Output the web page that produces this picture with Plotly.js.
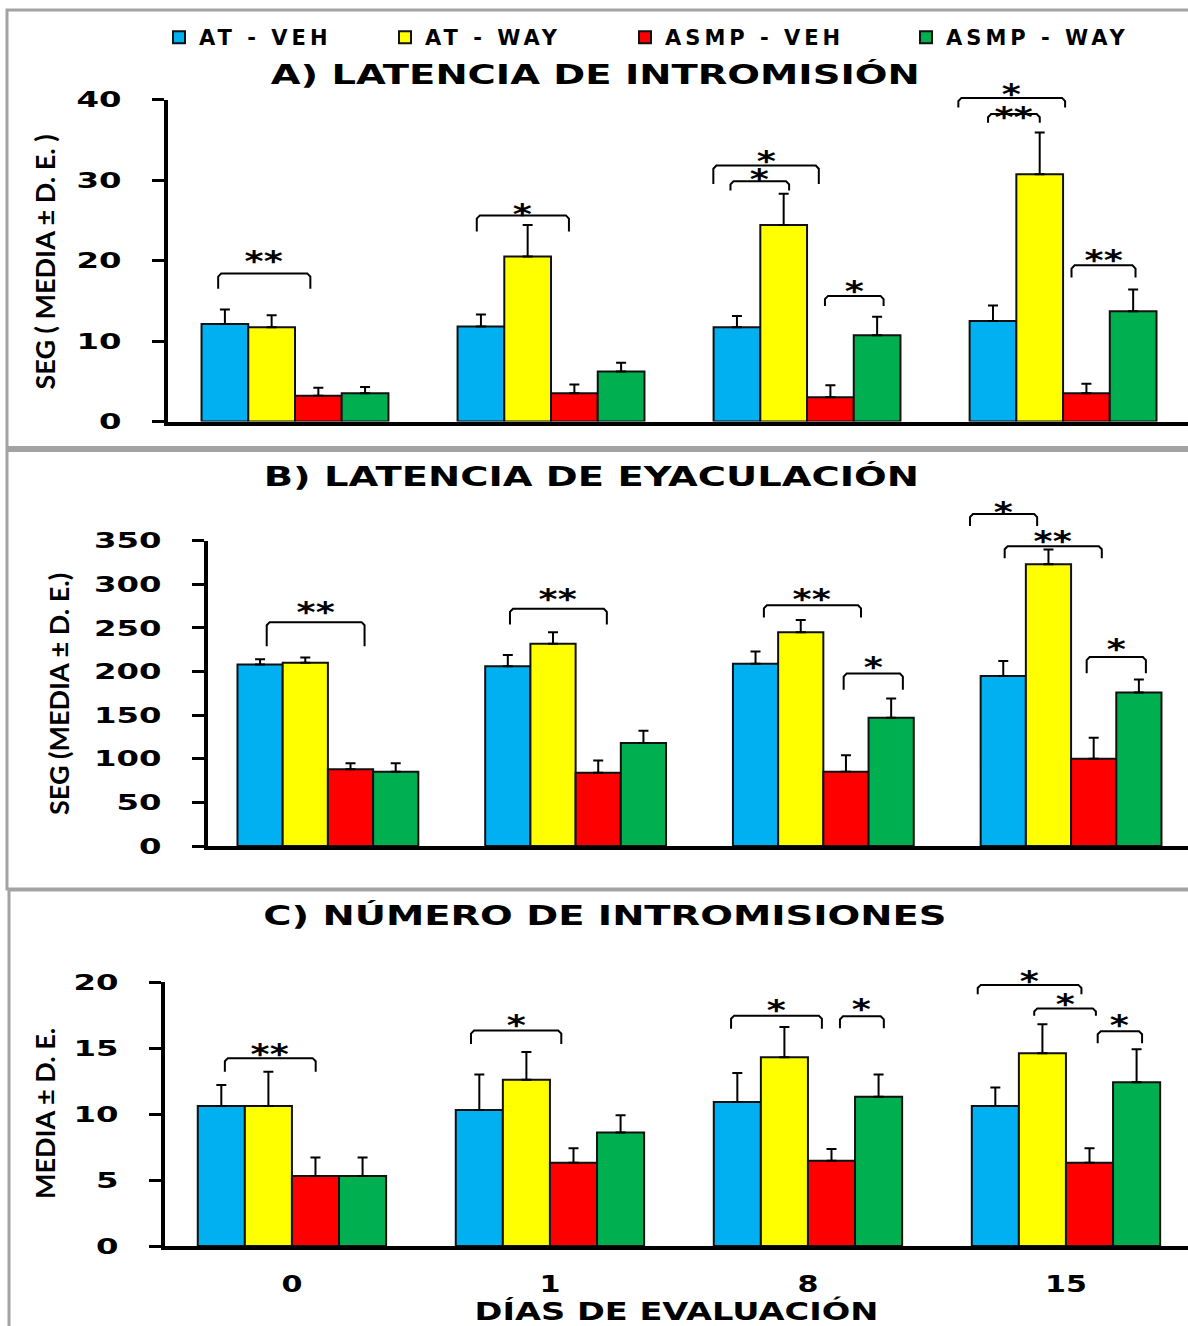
<!DOCTYPE html>
<html><head><meta charset="utf-8">
<script src="https://cdn.plot.ly/plotly-3.0.1.min.js"></script>
<style>
html,body{margin:0;padding:0;background:#fff}
.infolayer g[class^="legend"] text, text.legendtext { letter-spacing: 4px; }
</style>
</head><body>
<div id="chart" style="width:1188px;height:1326px"></div>
<script>
// ---------- DATA ----------
const days = ['0', '1', '8', '15'];
const seriesNames = ['AT - VEH', 'AT - WAY', 'ASMP - VEH', 'ASMP - WAY'];

// A) Latencia de intromisión (seg), media and D.E.
const latIntro_ATVEH = [12.1, 11.8, 11.7, 12.5];
const latIntro_ATWAY = [11.7, 20.5, 24.4, 30.7];
const latIntro_ASVEH = [3.2, 3.5, 3.0, 3.5];
const latIntro_ASWAY = [3.5, 6.2, 10.7, 13.7];
const latIntroSD_ATVEH = [1.8, 1.5, 1.4, 1.9];
const latIntroSD_ATWAY = [1.5, 3.9, 3.9, 5.2];
const latIntroSD_ASVEH = [1.0, 1.1, 1.5, 1.2];
const latIntroSD_ASWAY = [0.8, 1.1, 2.3, 2.7];

// B) Latencia de eyaculación (seg)
const latEyac_ATVEH = [208, 206, 209, 195];
const latEyac_ATWAY = [210, 232, 245, 323];
const latEyac_ASVEH = [88, 84, 85, 100];
const latEyac_ASWAY = [85, 118, 147, 176];
const latEyacSD_ATVEH = [6, 13, 14, 17];
const latEyacSD_ATWAY = [6, 13, 14, 17];
const latEyacSD_ASVEH = [7, 14, 19, 24];
const latEyacSD_ASWAY = [10, 14, 22, 15];

// C) Número de intromisiones
const numIntro_ATVEH = [10.6, 10.3, 10.9, 10.6];
const numIntro_ATWAY = [10.6, 12.6, 14.3, 14.6];
const numIntro_ASVEH = [5.3, 6.3, 6.45, 6.3];
const numIntro_ASWAY = [5.3, 8.6, 11.3, 12.4];
const numIntroSD_ATVEH = [1.6, 2.7, 2.2, 1.4];
const numIntroSD_ATWAY = [2.6, 2.1, 2.3, 2.2];
const numIntroSD_ASVEH = [1.4, 1.1, 0.9, 1.1];
const numIntroSD_ASWAY = [1.4, 1.3, 1.7, 2.5];

// significance brackets: [day index, start offset, end offset, end level, top level, label, label level]
const sigA = [
  [0, -0.30, 0.06, 16.5, 18.4, '**', 20.6],
  [1, -0.29, 0.07, 23.6, 25.6, '*', 26.5],
  [2, -0.366, 0.046, 29.5, 31.8, '*', 33.0],
  [2, -0.299, -0.070, 28.7, 29.85, '*', 30.8],
  [2, 0.070, 0.299, 14.35, 15.6, '*', 16.9],
  [3, -0.409, 0.008, 39.0, 40.2, '*', 41.4],
  [3, -0.293, -0.091, 37.1, 38.2, '**', 38.5],
  [3, 0.033, 0.283, 17.9, 19.4, '**', 20.8]
];
const sigB = [
  [0, -0.247, 0.148, 229, 256.6, '**', 274.8],
  [1, -0.265, 0.126, 254, 272, '**', 290],
  [2, -0.240, 0.152, 262, 276, '**', 290],
  [2, 0.082, 0.321, 179, 197.7, '*', 211.4],
  [3, -0.408, -0.137, 366.8, 380.5, '*', 388.8],
  [3, -0.268, 0.124, 330, 343.7, '**', 355.4],
  [3, 0.063, 0.302, 198, 216.6, '*', 231.9]
];
const sigC = [
  [0, -0.260, 0.092, 13.2, 14.23, '**', 14.96],
  [1, -0.306, 0.044, 15.3, 16.32, '*', 17.15],
  [2, -0.298, 0.054, 16.45, 17.45, '*', 18.33],
  [2, 0.124, 0.294, 16.5, 17.4, '*', 18.4],
  [3, -0.342, 0.060, 19.08, 19.78, '*', 20.48],
  [3, -0.123, 0.116, 17.45, 18.0, '*', 18.73],
  [3, 0.123, 0.295, 15.36, 16.27, '*', 17.17]
];

// ---------- STYLE ----------
const colors = ['#00B0F0', '#FFFF00', '#FF0000', '#00B050'];
const legendIds = ['legend', 'legend2', 'legend3', 'legend4'];
const FONT = 'DejaVu Sans, Verdana, sans-serif';
const NARROW = 'Lato, Roboto, sans-serif';
const W = 1188, H = 1326;
const px = v => v / W;
const py = v => 1 - v / H;

function barTraces(xa, ya, means, sds, withLegend) {
  return means.map((m, i) => ({
    type: 'bar', name: seriesNames[i], x: days, y: m, xaxis: xa, yaxis: ya,
    marker: {color: colors[i], line: {color: '#111', width: 2}},
    error_y: {type: 'data', symmetric: false, array: sds[i], arrayminus: sds[i].map(() => 0),
              color: '#000', thickness: 2, width: 5},
    showlegend: withLegend, legend: legendIds[i], hoverinfo: 'skip'
  }));
}
function bracketTrace(sig, xa, ya, rx, ry) {
  const xs = [], ys = [];
  sig.forEach(s => {
    const a = s[0] + s[1], b = s[0] + s[2];
    xs.push(a, a, a + rx, b - rx, b, b, null);
    ys.push(s[3], s[4] - ry, s[4], s[4], s[4] - ry, s[3], null);
  });
  return {type: 'scatter', mode: 'lines', x: xs, y: ys, xaxis: xa, yaxis: ya,
          line: {color: '#000', width: 2}, showlegend: false, hoverinfo: 'skip'};
}
function starAnns(sig, xa, ya) {
  return sig.map(s => ({
    xref: xa, yref: ya, x: s[0] + (s[1] + s[2]) / 2, y: s[6], text: s[5], showarrow: false,
    xanchor: 'center', yanchor: 'middle', yshift: -6,
    font: {family: FONT, size: 28, weight: 700, color: '#000'}
  }));
}

const traces = [].concat(
  barTraces('x', 'y', [latIntro_ATVEH, latIntro_ATWAY, latIntro_ASVEH, latIntro_ASWAY],
            [latIntroSD_ATVEH, latIntroSD_ATWAY, latIntroSD_ASVEH, latIntroSD_ASWAY], true),
  barTraces('x2', 'y2', [latEyac_ATVEH, latEyac_ATWAY, latEyac_ASVEH, latEyac_ASWAY],
            [latEyacSD_ATVEH, latEyacSD_ATWAY, latEyacSD_ASVEH, latEyacSD_ASWAY], false),
  barTraces('x3', 'y3', [numIntro_ATVEH, numIntro_ATWAY, numIntro_ASVEH, numIntro_ASWAY],
            [numIntroSD_ATVEH, numIntroSD_ATWAY, numIntroSD_ASVEH, numIntroSD_ASWAY], false),
  [bracketTrace(sigA, 'x4', 'y4', 0.012, 0.4),
   bracketTrace(sigB, 'x5', 'y5', 0.012, 3.5),
   bracketTrace(sigC, 'x6', 'y6', 0.012, 0.23)]
);

// panel geometry (paper fractions)
const domA = {x: [px(168), 1], y: [py(421.5), py(99.5)], r: [-0.496, 3.488], ymax: 40, dt: 10};
const domB = {x: [px(208), 1], y: [py(846), py(540.7)], r: [-0.484, 3.472], ymax: 350, dt: 50};
const domC = {x: [px(165), 1], y: [py(1246), py(982)], r: [-0.492, 3.473], ymax: 20, dt: 5};
const EXT = 1.2;

const tickFont = {family: FONT, size: 22, weight: 700, color: '#000'};
function xAx(d, anchor, labels) {
  return {domain: d.x, range: d.r, type: 'category', anchor: anchor, showline: true, linewidth: 4,
          linecolor: '#000', ticks: '', showticklabels: labels, showgrid: false, zeroline: false,
          tickfont: {family: FONT, size: 23, weight: 700, color: '#000'}, ticklabelstandoff: 14,
          fixedrange: true};
}
function yAx(d, anchor) {
  return {domain: d.y, range: [0, d.ymax], tick0: 0, dtick: d.dt, anchor: anchor, showline: true,
          linewidth: 4, linecolor: '#000', ticks: 'outside', ticklen: 12, tickwidth: 3,
          tickcolor: '#000', showgrid: false, zeroline: false, tickfont: tickFont,
          ticklabelstandoff: 26, fixedrange: true};
}
function xOv(d, anchor) {
  return {domain: d.x, range: d.r, type: 'linear', anchor: anchor, visible: false, fixedrange: true};
}
function yOv(d, anchor) {
  return {domain: [d.y[0], d.y[0] + (d.y[1] - d.y[0]) * EXT], range: [0, d.ymax * EXT],
          anchor: anchor, visible: false, fixedrange: true};
}

const titleFont = {family: FONT, size: 26, weight: 700, color: '#000'};
const yTitleFont = {family: NARROW, size: 27, weight: 700, color: '#000'};
const legFont = {family: FONT, size: 21, weight: 700, color: '#000'};
function leg(xpx) {
  return {x: px(xpx), xanchor: 'left', y: py(37.5), yanchor: 'middle', orientation: 'h',
          entrywidth: 235, entrywidthmode: 'pixels',
          bgcolor: 'rgba(0,0,0,0)', borderwidth: 0, font: legFont};
}

const frameLine = {color: '#a3a3a3', width: 3};
const yTitle = (x, y, text) => ({xref: 'paper', yref: 'paper', x: px(x), y: py(y), text: text,
  textangle: -90, showarrow: false, xanchor: 'center', yanchor: 'middle', font: yTitleFont});
const pTitle = (x, y, text) => ({xref: 'paper', yref: 'paper', x: px(x), y: py(y), text: text,
  showarrow: false, xanchor: 'center', yanchor: 'middle', font: titleFont});

const layout = {
  width: W, height: H, margin: {l: 0, r: 0, t: 0, b: 0},
  paper_bgcolor: '#ffffff', plot_bgcolor: 'rgba(0,0,0,0)',
  barmode: 'group', bargap: 0.27, bargroupgap: 0, showlegend: true,
  xaxis: xAx(domA, 'y', false), yaxis: yAx(domA, 'x'),
  xaxis2: xAx(domB, 'y2', false), yaxis2: yAx(domB, 'x2'),
  xaxis3: Object.assign(xAx(domC, 'y3', true),
          {title: {text: 'DÍAS DE EVALUACIÓN', font: {family: FONT, size: 24, weight: 700, color: '#000'}, standoff: 0}}),
  yaxis3: yAx(domC, 'x3'),
  xaxis4: xOv(domA, 'y4'), yaxis4: yOv(domA, 'x4'),
  xaxis5: xOv(domB, 'y5'), yaxis5: yOv(domB, 'x5'),
  xaxis6: xOv(domC, 'y6'), yaxis6: yOv(domC, 'x6'),
  legend: leg(159), legend2: leg(385), legend3: leg(625), legend4: leg(906),
  shapes: [
    {type: 'rect', xref: 'paper', yref: 'paper', x0: px(7), x1: px(1196), y0: py(447.5), y1: py(10), line: frameLine},
    {type: 'rect', xref: 'paper', yref: 'paper', x0: px(7), x1: px(1196), y0: py(889), y1: py(450.5), line: frameLine},
    {type: 'rect', xref: 'paper', yref: 'paper', x0: px(9), x1: px(1196), y0: py(1336), y1: py(890), line: frameLine}
  ],
  annotations: [].concat(
    [
      pTitle(595, 74, 'A) LATENCIA DE INTROMISIÓN'),
      pTitle(591, 476.7, 'B) LATENCIA DE EYACULACIÓN'),
      pTitle(605, 915.7, 'C) NÚMERO DE INTROMISIONES'),
      yTitle(44, 262.5, 'SEG ( MEDIA ± D. E. )'),
      yTitle(58, 694, 'SEG (MEDIA ± D. E.)'),
      yTitle(44, 1114, 'MEDIA ± D. E.')
    ],
    starAnns(sigA, 'x4', 'y4'), starAnns(sigB, 'x5', 'y5'), starAnns(sigC, 'x6', 'y6')
  )
};

// horizontal glyph scaling of the rendered texts (the reference typeface is wide)
function stretch(el, k) {
  if (el.getAttribute('data-st')) return;
  const L = el.getComputedTextLength();
  if (L > 0) {
    el.setAttribute('textLength', (L * k).toFixed(1));
    el.setAttribute('lengthAdjust', 'spacingAndGlyphs');
    el.setAttribute('data-st', '1');
  }
}
function applyStretch() {
  const root = document;
  root.querySelectorAll('g.ytick text, g.y2tick text, g.y3tick text').forEach(t => stretch(t, 1.47));
  root.querySelectorAll('g.x3tick text').forEach(t => stretch(t, 1.31));
  root.querySelectorAll('.g-x3title text').forEach(t => stretch(t, 1.40));
  root.querySelectorAll('text.annotation-text').forEach(t => {
    const s = t.textContent;
    if (/^[ABC]\)/.test(s)) stretch(t, 1.48);
    else if (/^\*+$/.test(s)) stretch(t, 1.3);
  });
}

Plotly.newPlot('chart', traces, layout, {staticPlot: true, displayModeBar: false}).then(gd => {
  applyStretch();
  gd.on('plotly_afterplot', applyStretch);
  [0, 30, 100, 300].forEach(t => setTimeout(applyStretch, t));
});
</script>
</body></html>
